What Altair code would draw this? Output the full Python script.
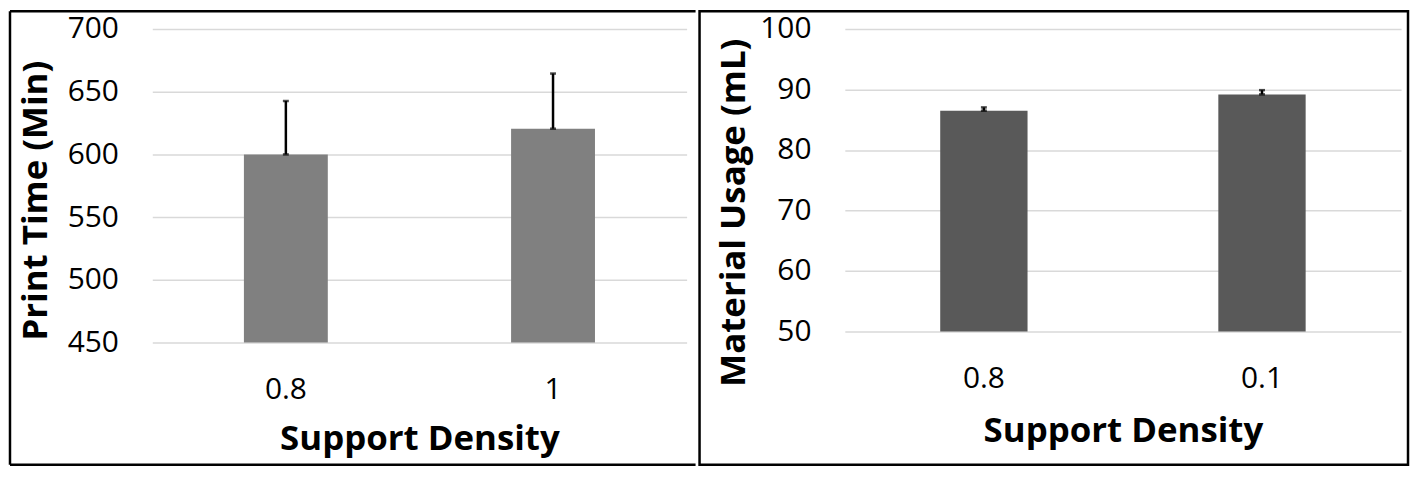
import altair as alt
import pandas as pd

# ---- data ----
left_cats = ["0.8", "1"]
left_vals = [600.0, 620.5]
left_errs = [42.6, 44.0]
left_ticks = [450, 500, 550, 600, 650, 700]

right_cats = ["0.8", "0.1"]
right_vals = [86.5, 89.2]
right_errs = [0.55, 0.7]
right_ticks = [50, 60, 70, 80, 90, 100]

FONT = "Open Sans"
TOP = -18
BOTTOM = 438
SW = 2.5


def panel(cats, vals, errs, ticks, ytitle, color, W, H, rect_x, rect_x2,
          ytitle_x, ytitle_y, xtitle_y, full_border):
    df = pd.DataFrame({
        "density": cats,
        "value": vals,
        "upper": [v + e for v, e in zip(vals, errs)],
    })
    lo, hi = ticks[0], ticks[-1]
    xenc = alt.X(
        "density:N", sort=cats,
        scale=alt.Scale(paddingInner=0.686, paddingOuter=0.343),
        axis=alt.Axis(title="Support Density", labelAngle=0, domain=False,
                      ticks=False, grid=False, labelPadding=32,
                      titleY=xtitle_y, titleBaseline="top"),
    )
    yscale = alt.Scale(domain=[lo, hi], zero=False, nice=False)
    base = alt.Chart(df)
    bars = base.mark_bar(color=color).encode(
        x=xenc,
        y=alt.Y("value:Q", scale=yscale,
                axis=alt.Axis(title=ytitle, values=ticks, grid=True,
                              gridColor="#d9d9d9", gridWidth=1.5,
                              domain=False, ticks=False, labelPadding=34,
                              titleAngle=270, titleX=ytitle_x, titleY=ytitle_y,
                              titleAlign="center", titleBaseline="alphabetic")),
        y2=alt.datum(lo),
    )
    rule = base.mark_rule(color="black", strokeWidth=2.5).encode(
        x=alt.X("density:N", sort=cats),
        y="value:Q",
        y2="upper:Q",
    )
    cap_top = base.mark_tick(color="black", size=6, thickness=2.5).encode(
        x=alt.X("density:N", sort=cats),
        y="upper:Q",
    )
    cap_bot = base.mark_tick(color="black", size=6, thickness=2.5).encode(
        x=alt.X("density:N", sort=cats),
        y="value:Q",
    )
    one = alt.Chart(pd.DataFrame({"a": [0]}))
    layers = [bars, rule, cap_top, cap_bot]
    if full_border:
        layers.append(one.mark_rect(
            fillOpacity=0, stroke="black", strokeWidth=SW
        ).encode(
            x=alt.value(rect_x), x2=alt.value(rect_x2),
            y=alt.value(TOP), y2=alt.value(BOTTOM),
        ))
    else:
        # left, top and bottom edges only; the right edge is shared
        layers.append(one.mark_rule(color="black", strokeWidth=SW).encode(
            x=alt.value(rect_x), x2=alt.value(rect_x2), y=alt.value(TOP)))
        layers.append(one.mark_rule(color="black", strokeWidth=SW).encode(
            x=alt.value(rect_x), x2=alt.value(rect_x2), y=alt.value(BOTTOM)))
        layers.append(one.mark_rule(color="black", strokeWidth=SW).encode(
            x=alt.value(rect_x), y=alt.value(TOP), y2=alt.value(BOTTOM)))
    return alt.layer(*layers).properties(width=W, height=H)


left = panel(left_cats, left_vals, left_errs, left_ticks, "Print Time (Min)",
             "#808080", 537, 315, -143, 546, -106, 172, 80, False)
right = panel(right_cats, right_vals, right_errs, right_ticks,
              "Material Usage (mL)", "#595959", 559, 304, -146, 566,
              -101, 184, 83, True)

chart = alt.hconcat(left, right, spacing=0).resolve_scale(
    x="independent", y="independent"
).properties(padding=0, background="white").configure_view(
    strokeWidth=0
).configure_axis(
    labelFont=FONT, labelFontSize=30, labelColor="#000000",
    titleFont=FONT, titleFontSize=35, titleFontWeight="bold",
    titleColor="#000000",
)

chart.save("out.html", embed_options={"renderer": "svg", "actions": False})
